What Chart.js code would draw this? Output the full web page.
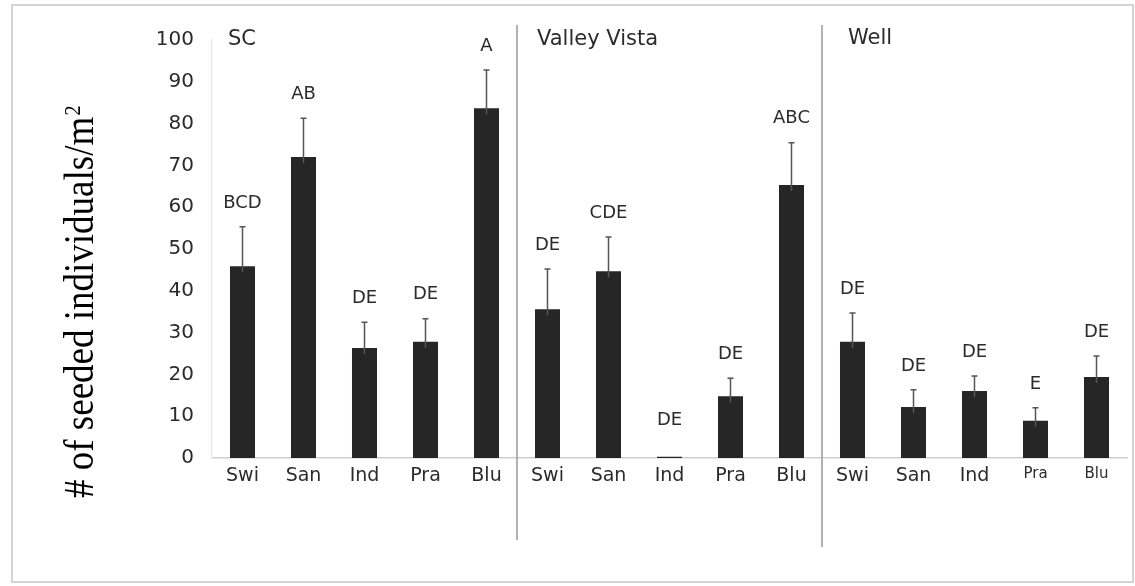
<!DOCTYPE html>
<html>
<head>
<meta charset="utf-8">
<script src="https://cdn.jsdelivr.net/npm/chart.js@4/dist/chart.umd.min.js"></script>
<style>
  html, body { margin: 0; padding: 0; background: #fff; }
  #wrap { width: 1135px; height: 586px; }
</style>
</head>
<body>
<div id="wrap"><canvas id="chartdiv" width="1135" height="586"></canvas></div>
<script>
// sites and species codes
const sites = ['SC', 'Valley Vista', 'Well'];
const species = ['Swi', 'San', 'Ind', 'Pra', 'Blu'];

// mean seeded individuals per m2, one array per site
const scMeans = [45.9, 72, 26.3, 27.8, 83.7];
const vvMeans = [35.6, 44.7, 0.3, 14.8, 65.3];
const wellMeans = [27.8, 12.2, 16, 8.9, 19.4];

// standard errors (upper bar only)
const scErr = [9.4, 9.3, 6.2, 5.5, 9.1];
const vvErr = [9.6, 8.2, 0, 4.3, 10.1];
const wellErr = [6.9, 4.1, 3.6, 3.1, 5.0];

// Tukey letter groups
const scLetters = ['BCD', 'AB', 'DE', 'DE', 'A'];
const vvLetters = ['DE', 'CDE', 'DE', 'DE', 'ABC'];
const wellLetters = ['DE', 'DE', 'DE', 'E', 'DE'];

const yTicks = [0, 10, 20, 30, 40, 50, 60, 70, 80, 90, 100];

const labels = [...species, ...species, ...species];
const means = [...scMeans, ...vvMeans, ...wellMeans];
const errs = [...scErr, ...vvErr, ...wellErr];
const letters = [...scLetters, ...vvLetters, ...wellLetters];

const sans = '"DejaVu Sans", Verdana, sans-serif';
const serif = '"Liberation Serif", "Times New Roman", serif';
const textColor = '#2b2b2b';

const extras = {
  id: 'extras',
  beforeDraw(chart) {
    const ctx = chart.ctx;
    ctx.save();
    ctx.fillStyle = '#fff';
    ctx.fillRect(0, 0, chart.width, chart.height);
    ctx.strokeStyle = '#d4d4d4';
    ctx.lineWidth = 2;
    ctx.strokeRect(12, 5, 1121, 577);
    ctx.restore();
  },
  afterDatasetsDraw(chart) {
    const ctx = chart.ctx;
    const x = chart.scales.x, y = chart.scales.y;
    const area = chart.chartArea;
    ctx.save();

    // error bars + letters
    means.forEach((m, i) => {
      const cx = x.getPixelForValue(i);
      const top = y.getPixelForValue(m);
      const et = y.getPixelForValue(m + errs[i]);
      ctx.strokeStyle = '#555';
      ctx.lineWidth = 1.5;
      if (errs[i] > 0) {
        ctx.beginPath();
        ctx.moveTo(cx, top + 6);
        ctx.lineTo(cx, et);
        ctx.moveTo(cx - 3, et);
        ctx.lineTo(cx + 3, et);
        ctx.stroke();
      }
      ctx.fillStyle = textColor;
      ctx.font = '18px ' + sans;
      ctx.textAlign = 'center';
      ctx.textBaseline = 'middle';
      ctx.fillText(letters[i], cx, et - 24 - (errs[i] === 0 ? 12 : 0));
    });

    // site separators
    const step = x.getPixelForValue(1) - x.getPixelForValue(0);
    const sep1 = x.getPixelForValue(4) + step / 2;
    const sep2 = x.getPixelForValue(9) + step / 2;
    ctx.strokeStyle = '#999';
    ctx.lineWidth = 1.5;
    ctx.beginPath();
    ctx.moveTo(sep1, 25); ctx.lineTo(sep1, 540);
    ctx.moveTo(sep2, 25); ctx.lineTo(sep2, 547);
    ctx.stroke();

    // site names
    ctx.font = '21px ' + sans;
    ctx.textAlign = 'left';
    ctx.textBaseline = 'middle';
    ctx.fillStyle = textColor;
    ctx.fillText(sites[0], area.left + 16, 40);
    ctx.fillText(sites[1], sep1 + 20, 40);
    ctx.fillText(sites[2], sep2 + 26, 39);

    // y axis title, m squared
    const main = '# of seeded individuals/m';
    ctx.translate(93, 498);
    ctx.rotate(-Math.PI / 2);
    ctx.scale(1, 1.12);
    ctx.fillStyle = '#000';
    ctx.font = '37px ' + serif;
    ctx.textBaseline = 'alphabetic';
    ctx.fillText(main, 0, 0);
    const w = ctx.measureText(main).width;
    ctx.font = '21px ' + serif;
    ctx.fillText('2', w + 1, -12);
    ctx.restore();
  }
};

new Chart(document.getElementById('chartdiv'), {
  type: 'bar',
  data: {
    labels: labels,
    datasets: [{
      data: means,
      backgroundColor: '#262626',
      borderWidth: 0,
      categoryPercentage: 1,
      barPercentage: 0.41
    }]
  },
  options: {
    responsive: false,
    animation: false,
    devicePixelRatio: 1,
    layout: { padding: { left: 0, right: 8, top: 40, bottom: 0 } },
    plugins: { legend: { display: false }, tooltip: { enabled: false } },
    scales: {
      x: {
        grid: { display: false, drawTicks: false },
        border: { display: true, color: '#cfcfcf', width: 1.5 },
        ticks: {
          autoSkip: false,
          maxRotation: 0,
          padding: 7,
          color: textColor,
          font: ctx => (ctx.index >= 13 ? { family: sans, size: 15 } : { family: sans, size: 19 })
        },
        afterFit: s => { s.height = 128; }
      },
      y: {
        min: 0,
        max: 100,
        afterBuildTicks: s => { s.ticks = yTicks.map(v => ({ value: v })); },
        grid: { display: false, drawTicks: false },
        border: { display: true, color: '#ececec', width: 1.5 },
        ticks: { padding: 18, color: textColor, font: { family: sans, size: 20 } },
        afterFit: s => { s.width = 212; }
      }
    }
  },
  plugins: [extras]
});
</script>
</body>
</html>
